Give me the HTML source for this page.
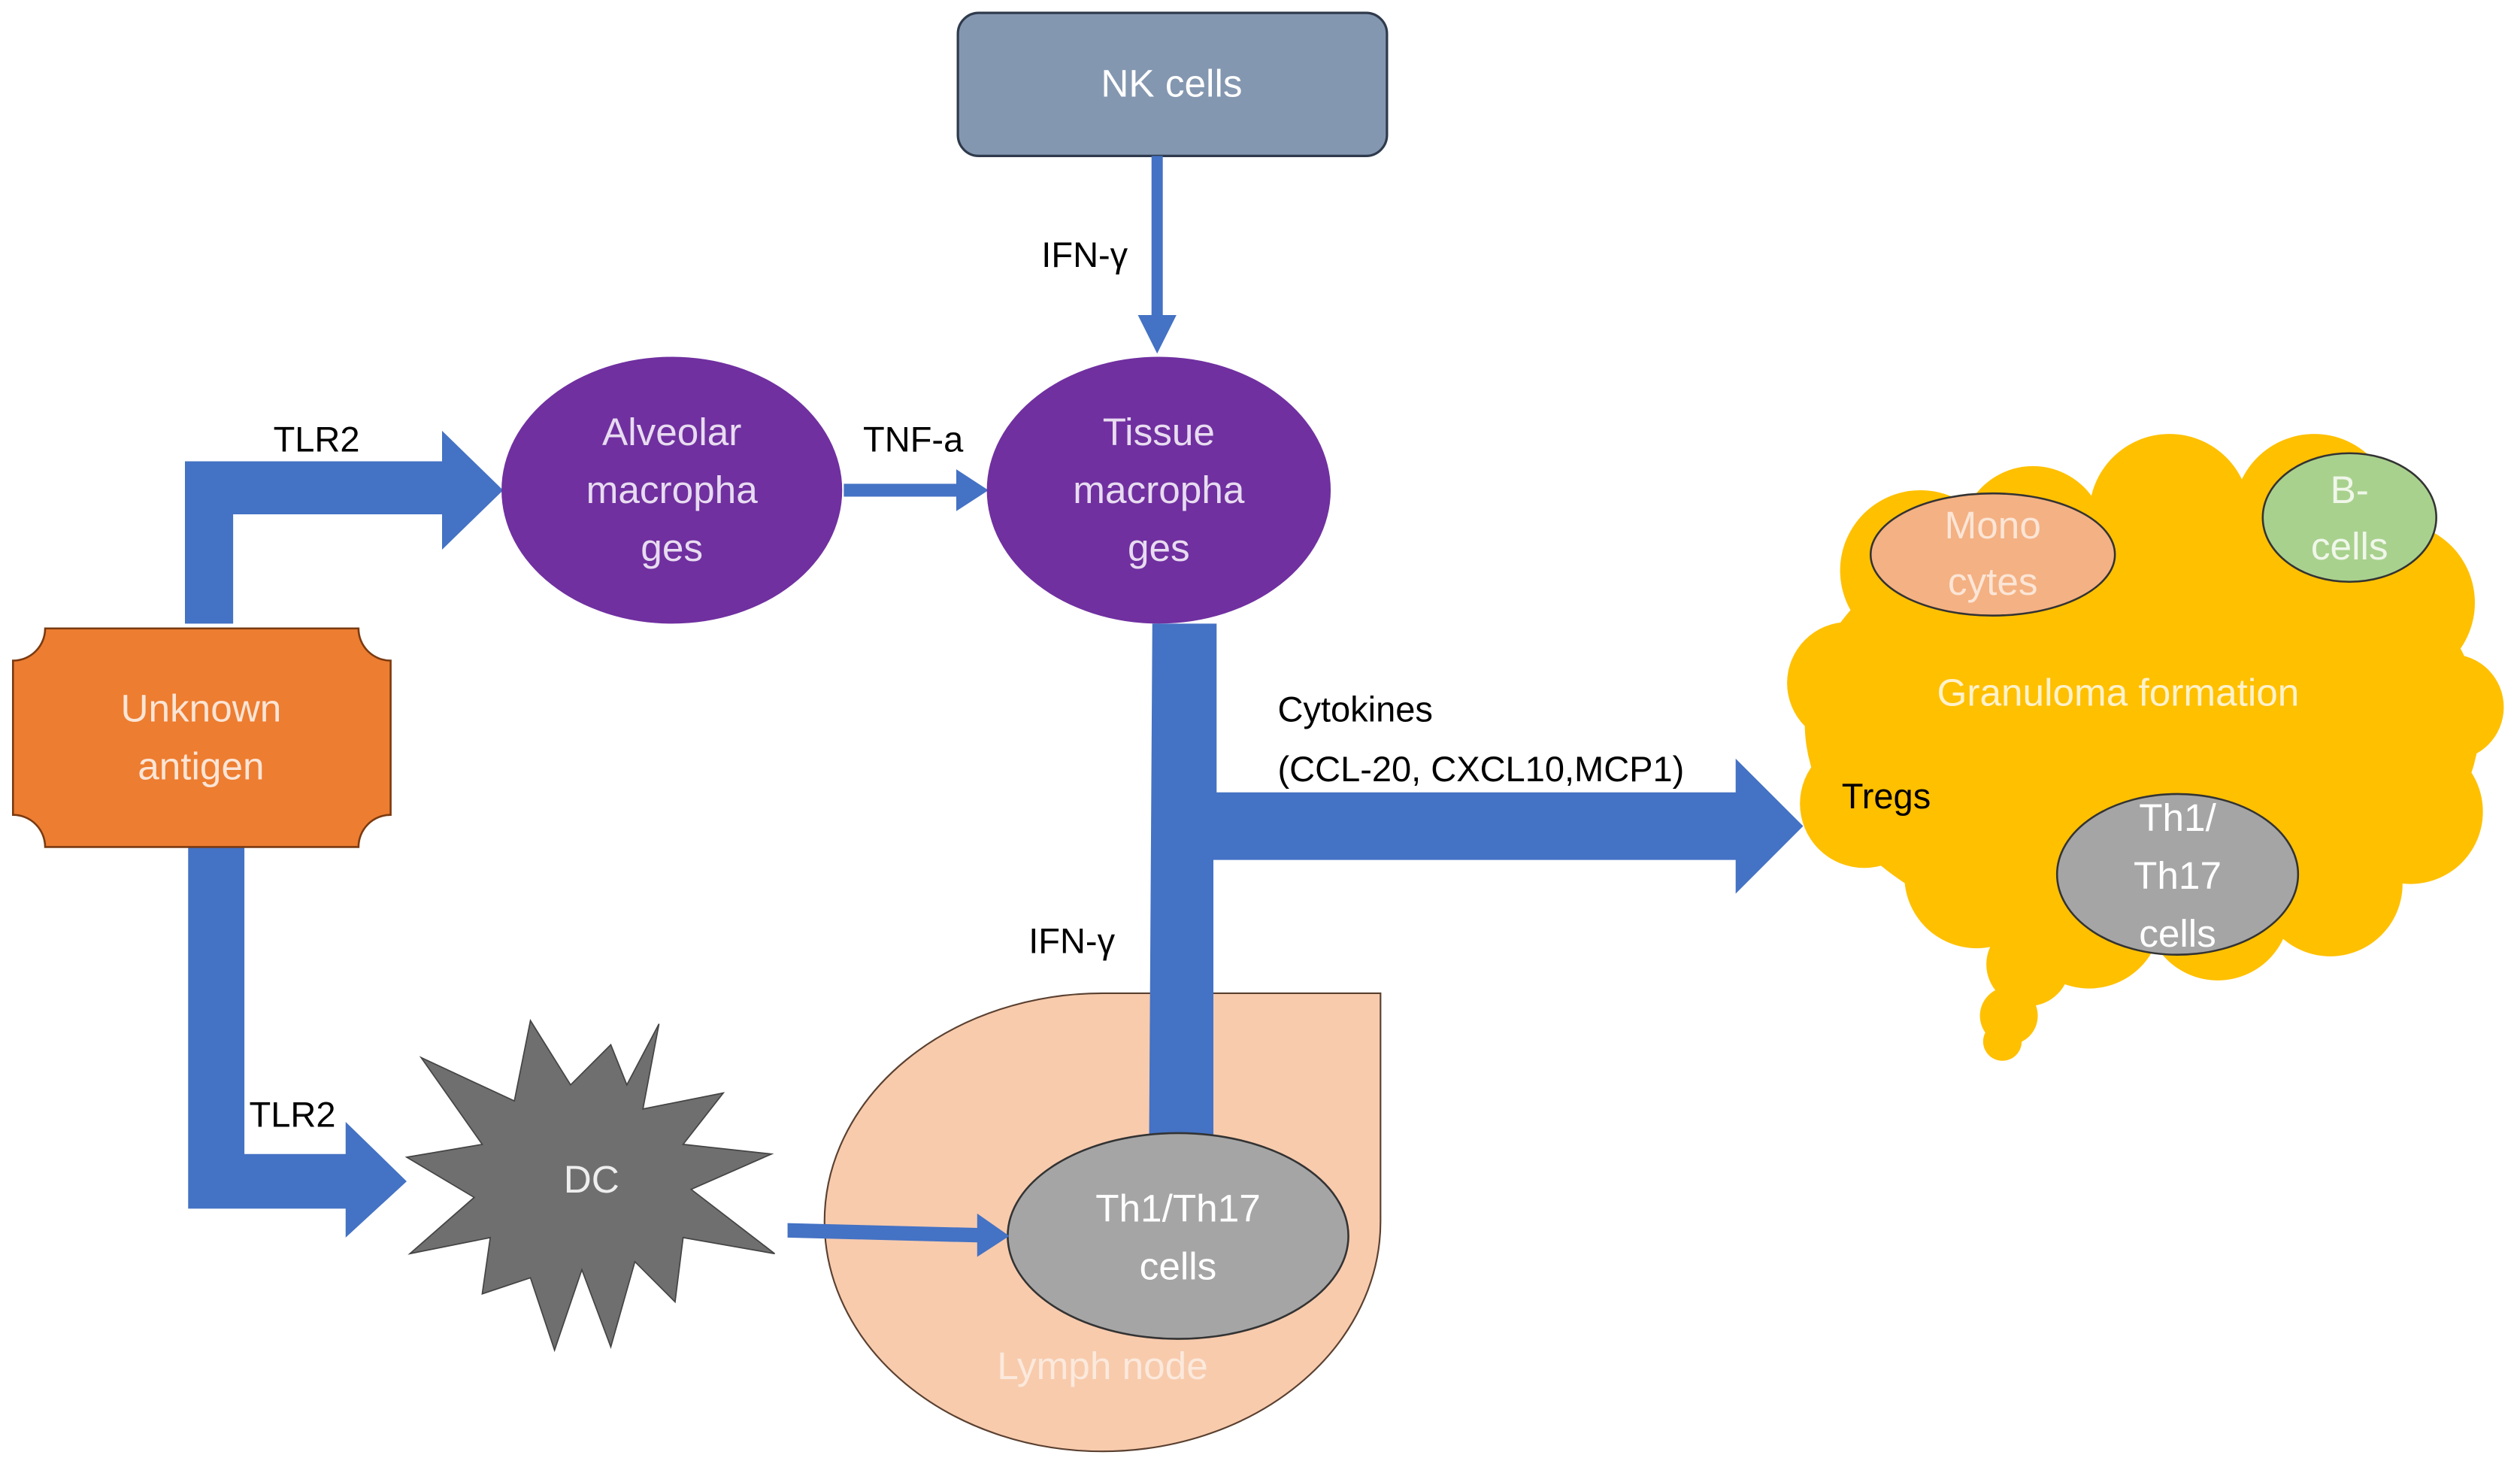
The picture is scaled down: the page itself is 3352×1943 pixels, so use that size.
<!DOCTYPE html>
<html><head><meta charset="utf-8"><style>
html,body{margin:0;padding:0;background:#fff;width:3352px;height:1943px;overflow:hidden}
svg{display:block}
text{font-family:"Liberation Sans",sans-serif}
</style></head><body>
<svg width="3352" height="1943" viewBox="0 0 1568 909" xmlns="http://www.w3.org/2000/svg">
<rect x="596" y="8" width="267" height="89" rx="13" fill="#8497b0" stroke="#2f3b4c" stroke-width="1.5"/>
<text x="729" y="60" font-size="24" fill="#fff" text-anchor="middle">NK cells</text>
<rect x="716.5" y="97" width="7" height="100" fill="#4472c4"/>
<polygon points="708,196 732,196 720,220" fill="#4472c4"/>
<text x="648" y="166" font-size="22" fill="#000">IFN-γ</text>
<polygon points="115,388 145,388 145,320 275,320 275,342 313,305 275,268 275,287 115,287" fill="#4472c4"/>
<text x="170" y="281" font-size="22" fill="#000">TLR2</text>
<polygon points="117,527 152,527 152,718 215,718 215,698 253,735 215,770 215,752 117,752" fill="#4472c4"/>
<text x="155" y="701" font-size="22" fill="#000">TLR2</text>
<path d="M28,391 L223,391 A20,20 0 0 0 243,411 L243,507 A20,20 0 0 0 223,527 L28,527 A20,20 0 0 0 8,507 L8,411 A20,20 0 0 0 28,391 Z" fill="#ed7d31" stroke="#7a3a10" stroke-width="1.2"/>
<text x="125" y="449" font-size="24" fill="#fbe5d6" text-anchor="middle">Unknown</text>
<text x="125" y="485" font-size="24" fill="#fbe5d6" text-anchor="middle">antigen</text>
<ellipse cx="418" cy="305" rx="106" ry="83" fill="#7030a0"/>
<text x="418" y="277" font-size="24" fill="#e8dcf0" text-anchor="middle">Alveolar</text>
<text x="418" y="313" font-size="24" fill="#e8dcf0" text-anchor="middle">macropha</text>
<text x="418" y="349" font-size="24" fill="#e8dcf0" text-anchor="middle">ges</text>
<rect x="525" y="301" width="72" height="8" fill="#4472c4"/>
<polygon points="595,292 595,318 615,305" fill="#4472c4"/>
<text x="537" y="281" font-size="22" fill="#000">TNF-a</text>
<path d="M686,618 L859,618 L859,760 A173,143 0 0 1 686,903 A173,143 0 0 1 513,760 A173,142 0 0 1 686,618 Z" fill="#f8cbad" stroke="#5a4030" stroke-width="1"/>
<text x="686" y="858" font-size="24" fill="#fbe9dc" text-anchor="middle">Lymph node</text>
<ellipse cx="721" cy="305" rx="107" ry="83" fill="#7030a0"/>
<text x="721" y="277" font-size="24" fill="#e8dcf0" text-anchor="middle">Tissue</text>
<text x="721" y="313" font-size="24" fill="#e8dcf0" text-anchor="middle">macropha</text>
<text x="721" y="349" font-size="24" fill="#e8dcf0" text-anchor="middle">ges</text>
<polygon points="717,388 757,388 757,493 1080,493 1080,472 1122,514 1080,556 1080,535 755,535 755,707 715,707" fill="#4472c4"/>
<text x="795" y="449" font-size="22" fill="#000">Cytokines</text>
<text x="795" y="486" font-size="22" fill="#000">(CCL-20, CXCL10,MCP1)</text>
<text x="640" y="593" font-size="22" fill="#000">IFN-γ</text>
<ellipse cx="733" cy="769" rx="106" ry="64" fill="#a5a5a5" stroke="#333" stroke-width="1.2"/>
<text x="733" y="760" font-size="24" fill="#fff" text-anchor="middle">Th1/Th17</text>
<text x="733" y="796" font-size="24" fill="#fff" text-anchor="middle">cells</text>
<polygon points="490,761 608,764 608,755 628,769 608,782 608,773 490,770" fill="#4472c4"/>
<polygon fill="#6f6f6f" stroke="#444" stroke-width="0.8" points="410,637 400,690 450,680 425,712 480,718 430,740 482,780 425,770 420,810 395,785 380,838 362,790 345,840 330,795 300,805 305,770 255,780 295,745 253,720 300,712 262,658 320,685 330,635 355,675 380,650 390,675"/>
<text x="368" y="742" font-size="24" fill="#eee" text-anchor="middle">DC</text>
<g fill="#ffc000">
<ellipse cx="1333" cy="450" rx="210" ry="140"/>
<circle cx="1195" cy="355" r="50"/><circle cx="1265" cy="335" r="45"/><circle cx="1350" cy="320" r="50"/>
<circle cx="1440" cy="320" r="50"/><circle cx="1490" cy="375" r="50"/><circle cx="1525" cy="440" r="33"/>
<circle cx="1500" cy="505" r="45"/><circle cx="1450" cy="550" r="45"/><circle cx="1380" cy="565" r="45"/>
<circle cx="1300" cy="570" r="45"/><circle cx="1230" cy="545" r="45"/><circle cx="1160" cy="500" r="40"/>
<circle cx="1150" cy="425" r="38"/>
<circle cx="1262" cy="600" r="26"/><circle cx="1250" cy="632" r="18"/><circle cx="1246" cy="648" r="12"/>
</g>
<ellipse cx="1240" cy="345" rx="76" ry="38" fill="#f4b183" stroke="#333" stroke-width="1.2"/>
<text x="1240" y="335" font-size="24" fill="#fbe5d6" text-anchor="middle">Mono</text>
<text x="1240" y="370" font-size="24" fill="#fbe5d6" text-anchor="middle">cytes</text>
<ellipse cx="1462" cy="322" rx="54" ry="40" fill="#a9d18e" stroke="#333" stroke-width="1.2"/>
<text x="1462" y="313" font-size="24" fill="#f0f7ea" text-anchor="middle">B-</text>
<text x="1462" y="348" font-size="24" fill="#f0f7ea" text-anchor="middle">cells</text>
<text x="1318" y="439" font-size="24" fill="#fff2cc" text-anchor="middle">Granuloma formation</text>
<text x="1146" y="503" font-size="22" fill="#000">Tregs</text>
<ellipse cx="1355" cy="544" rx="75" ry="50" fill="#a5a5a5" stroke="#333" stroke-width="1.2"/>
<text x="1355" y="517" font-size="24" fill="#fff" text-anchor="middle">Th1/</text>
<text x="1355" y="553" font-size="24" fill="#fff" text-anchor="middle">Th17</text>
<text x="1355" y="589" font-size="24" fill="#fff" text-anchor="middle">cells</text>
</svg>
</body></html>
